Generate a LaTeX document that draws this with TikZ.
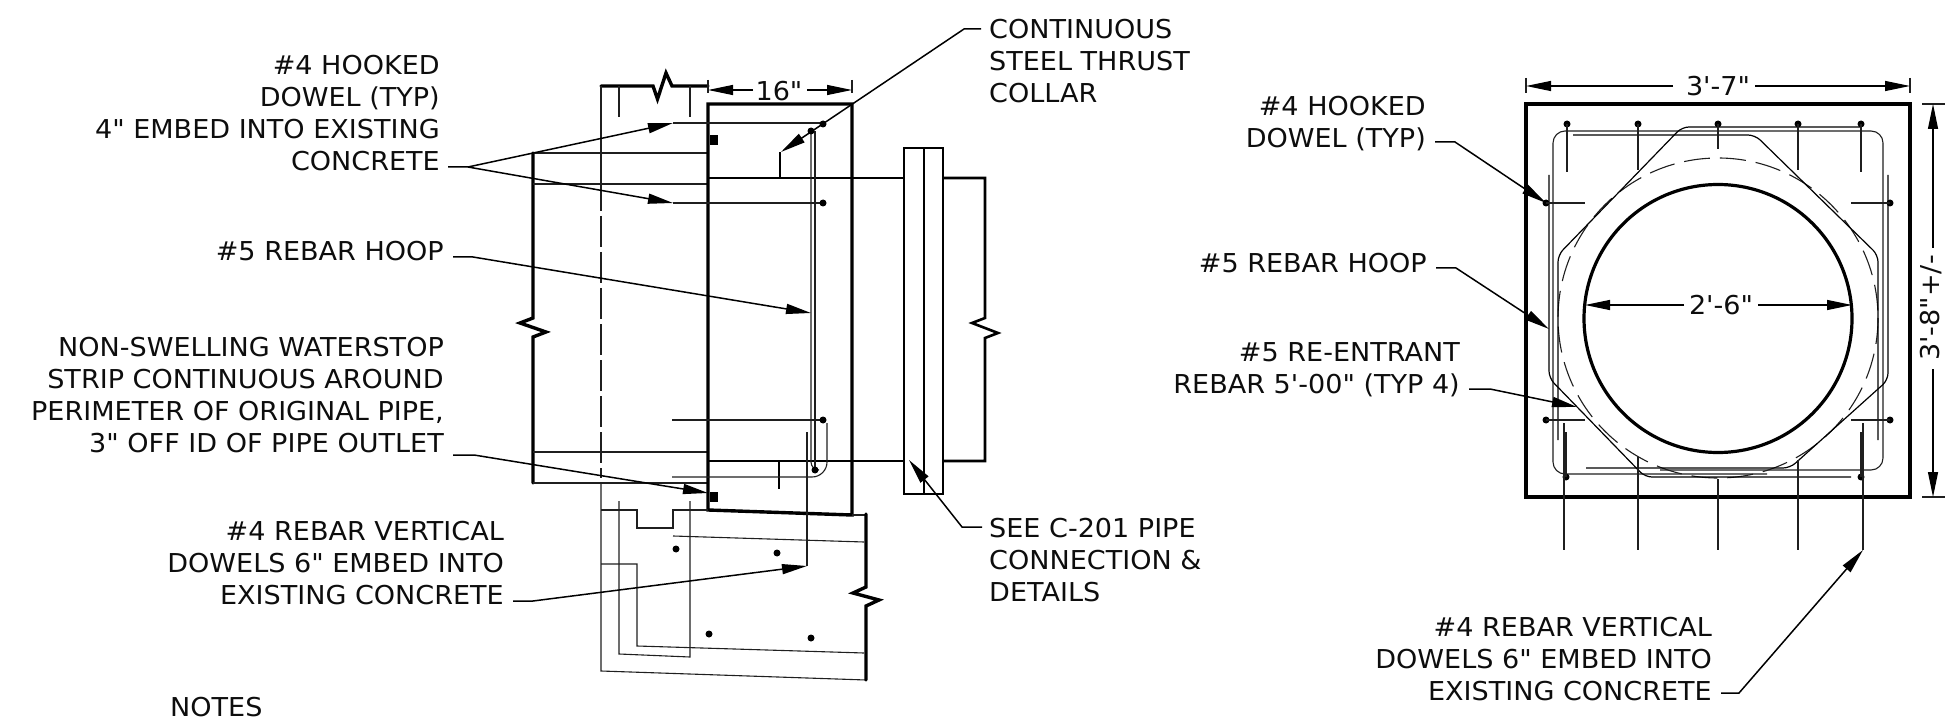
\documentclass[tikz,border=0pt]{standalone}
\usepackage{fontspec}
\usetikzlibrary{arrows.meta}
\newfontfamily\lblfont{DejaVu Sans}[FakeStretch=1.04]
\tikzset{
 heavy/.style={line width=3.4pt,line cap=round,line join=miter},
 med/.style={line width=2.6pt,line join=miter},
 thin/.style={line width=1.1pt,black!88},
 hair/.style={line width=1.2pt,black},
 lead/.style={line width=1.5pt,-{Stealth[length=25pt,width=10pt,inset=0pt]}},
 dimline/.style={line width=1.2pt,-{Stealth[length=25pt,width=10pt,inset=0pt]}},
 lbl/.style={font=\lblfont\fontsize{26}{32}\selectfont,inner sep=0pt,text=black!95},
 lbr/.style={lbl,align=right,anchor=east},
 lbe/.style={lbl,align=left,anchor=west},
 dot/.style={circle,fill=black,inner sep=0pt,minimum size=7pt},
}
\begin{document}
\begin{tikzpicture}[x=1pt,y=-1pt]
\useasboundingbox (0,0) rectangle (1959,719);
% ---------- left section ----------
\draw[heavy] (601,86) -- (653,86) -- (657.5,99) -- (666,73) -- (672,86) -- (708,86);
\draw[thin] (601,86) -- (601,180);
\draw[thin,dash pattern=on 31pt off 5pt] (601,180) -- (601,478);
\draw[thin] (601,482) -- (601,671) -- (866,680);
\draw[thin] (619,86) -- (619,117);
\draw[thin] (690,86) -- (690,117);
\draw[heavy] (533,153) -- (533,318) -- (520,323) -- (546,332) -- (533,337) -- (533,483);
\foreach \y in {153,184,452,483} \draw[thin] (533,\y) -- (708,\y);
\draw[heavy] (708,510) -- (708,104) -- (852,104) -- (852,515) -- cycle;
\fill (710,135) rectangle (718,145);
\fill (710,492) rectangle (718,502);
% pipe
\draw[med] (708,178) -- (904,178);
\draw[med] (943,178) -- (985,178) -- (985,318) -- (972,323) -- (998,333) -- (985,338) -- (985,461) -- (943,461);
\draw[med] (708,461) -- (904,461);
\draw[med] (904,494) -- (904,148) -- (943,148) -- (943,494) -- cycle;
\draw[med] (924,148) -- (924,494);
\draw[med] (780,178) -- (780,152);
\draw[med] (779,461) -- (779,489);
% rebar section
\draw[thin] (673,123) -- (823,123);
\draw[thin] (673,203) -- (823,203);
\draw[thin] (672,420) -- (823,420);
\draw[thin] (672,477) -- (812,477) arc[start angle=90,end angle=0,radius=15] -- (827,423);
\draw[thin] (811,131) -- (811,462) arc[start angle=180,end angle=90,radius=8] ;
\draw[thin] (815,131) -- (815,470);
\node[dot] (d1) at (823,124) {};
\node[dot] (d2) at (823,203) {};
\node[dot] (d3) at (823,420) {};
\node[dot] (d4) at (811,131) {};
\node[dot] (d5) at (815,470) {};
\draw[thin] (807,432) -- (807,566);
% footing
\draw[thin] (601,510) -- (637,510) -- (637,528) -- (673,528) -- (673,510) -- (708,510);
\draw[thin] (619,501) -- (619,654) -- (690,657) -- (690,501);
\draw[thin] (673,536) -- (864,542);
\draw[thin] (601,564) -- (637,564) -- (637,646) -- (864,653);
\draw[thin] (852,515) -- (866,515);
\draw[heavy] (866,514) -- (866,587) -- (853,593) -- (879,600) -- (866,606) -- (866,680);
\node[dot] (d6) at (676,549) {};
\node[dot] (d7) at (777,553) {};
\node[dot] (d8) at (709,634) {};
\node[dot] (d9) at (811,638) {};
% 16 dim
\draw[thin] (708,80) -- (708,93);
\draw[thin] (852,80) -- (852,93);
\node[lbl] (dimA) at (779,91) {16"};
\coordinate (dimAl) at (708,90);
\coordinate (dimAr) at (852,90);
\draw[dimline] (753,90) -- (dimAl);
\draw[dimline] (807,90) -- (dimAr);
% labels left
\node[lbr] (t1) at (440,113) {\#4 HOOKED\\DOWEL (TYP)\\4" EMBED INTO EXISTING\\CONCRETE};
\node[lbr] (t2) at (444,251) {\#5 REBAR HOOP};
\node[lbr] (t3) at (444,395) {NON-SWELLING WATERSTOP\\STRIP CONTINUOUS AROUND\\PERIMETER OF ORIGINAL PIPE,\\3" OFF ID OF PIPE OUTLET};
\node[lbr] (t4) at (504,563) {\#4 REBAR VERTICAL\\DOWELS 6" EMBED INTO\\EXISTING CONCRETE};
\node[lbe] (t5) at (989,61.5) {CONTINUOUS\\STEEL THRUST\\COLLAR};
\node[lbe] (t6) at (989,560) {SEE C-201 PIPE\\CONNECTION \&\\DETAILS};
\node[lbl,anchor=south west] (t7) at (170,717) {NOTES};
% leaders left
\coordinate (k1) at (468,167);
\draw[lead] (448,167) -- (k1) -- (673,123);
\draw[lead] (k1) -- (673,203);
\draw[lead] (453,257) -- (473,257) -- (811,313);
\draw[lead] (453,455) -- (474,455) -- (708,493);
\draw[lead] (513,601) -- (533,601) -- (807,566);
\draw[lead] (981,29) -- (964,29) -- (781,152);
\draw[lead] (982,527) -- (962,527) -- (909,460);
% ---------- right plan ----------
\draw[heavy,line cap=butt] (1526,104) rectangle (1910,497);
\draw[line width=3.2pt] (1718,318.5) circle[radius=134];
\draw[thin,dash pattern=on 26pt off 10pt] (1718,318) circle[radius=160];
% hoop
\draw[thin,rounded corners=12pt] (1660,470) -- (1883,470) -- (1883,131) -- (1553,131) -- (1553,474) -- (1767,474);
% re-entrant
\draw[hair,rounded corners=7pt] (1861,127) -- (1682,127) -- (1558,255) -- (1558,440);
\draw[hair,rounded corners=7pt] (1573,135) -- (1755,135) -- (1878,255) -- (1878,440);
\draw[hair,rounded corners=7pt] (1851,477) -- (1645,477) -- (1549,378) -- (1549,175);
\draw[hair,rounded corners=7pt] (1586,468) -- (1790,468) -- (1888,380) -- (1888,175);
% dowels top
\foreach \n/\x/\e in {a/1567/172,b/1638/170,c/1718/149,e/1798/170,f/1861/172}{
  \node[dot] (top\n) at (\x,124) {};
  \draw[thin] (top\n.center) -- (\x,\e);
}
\node[dot] (sl1) at (1546,203) {};
\node[dot] (sr1) at (1890,203) {};
\node[dot] (sl2) at (1546,420) {};
\node[dot] (sr2) at (1890,420) {};
\draw[thin] (sl1.center) -- (1585,203);
\draw[thin] (sr1.center) -- (1851,203);
\draw[thin] (sl2.center) -- (1585,420);
\draw[thin] (sr2.center) -- (1851,420);
\node[dot] (bl) at (1566,477) {};
\node[dot] (br) at (1861,477) {};
\draw[thin] (bl.center) -- (1566,432);
\draw[thin] (br.center) -- (1861,432);
\draw[thin] (1564,423) -- (1564,550);
\draw[thin] (1638,457) -- (1638,550);
\draw[thin] (1718,479) -- (1718,550);
\draw[thin] (1798,460) -- (1798,550);
\draw[thin] (1863,423) -- (1863,550);
% dims
\draw[thin] (1526,78) -- (1526,93);
\draw[thin] (1910,78) -- (1910,93);
\node[lbl] (dimB) at (1718,86) {3'-7"};
\draw[dimline] (1673,86) -- (1526,86);
\draw[dimline] (1755,86) -- (1910,86);
\draw[thin] (1922,104) -- (1945,104);
\draw[thin] (1922,497) -- (1945,497);
\node[lbl,rotate=90] (dimC) at (1931,308) {3'-8"+/-};
\draw[dimline] (1933,248) -- (1933,104);
\draw[dimline] (1933,369) -- (1933,497);
\node[lbl] (dimD) at (1721,305) {2'-6"};
\draw[dimline] (1684,305) -- (1585,305);
\draw[dimline] (1758,305) -- (1852,305);
% labels right
\node[lbr] (r1) at (1426,124) {\#4 HOOKED\\DOWEL (TYP)};
\node[lbr] (r2) at (1427,263) {\#5 REBAR HOOP};
\node[lbr] (r3) at (1460,370) {\#5 RE-ENTRANT\\REBAR 5'-00" (TYP 4)};
\node[lbr] (r4) at (1712,659) {\#4 REBAR VERTICAL\\DOWELS 6" EMBED INTO\\EXISTING CONCRETE};
\draw[lead] (1435,142) -- (1455,142) -- (sl1.center);
\draw[lead] (1436,268) -- (1456,268) -- (1549,329);
\draw[lead] (1469,389) -- (1490,389) -- (1577,407);
\draw[lead] (1721,693) -- (1739,693) -- (1863,550);
\end{tikzpicture}
\end{document}
